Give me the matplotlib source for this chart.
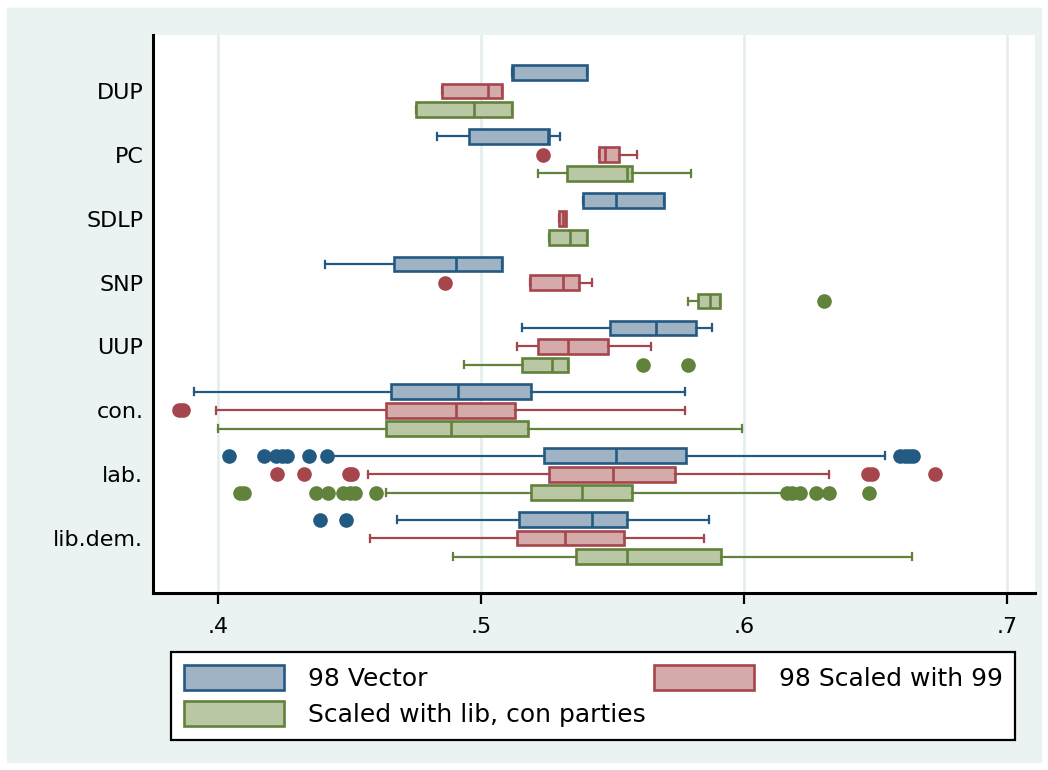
import numpy as np
import matplotlib.pyplot as plt
from matplotlib.patches import Patch, Rectangle

# 데이터
groups = ['DUP', 'PC', 'SDLP', 'SNP', 'UUP', 'con.', 'lab.', 'lib.dem.']
series = ['98 Vector', '98 Scaled with 99', 'Scaled with lib, con parties']

# 98 Vector
vec_whislo = [0.5116, 0.4833, 0.5388, 0.4406, 0.5156, 0.3909, 0.4420, 0.4681]
vec_q1 = [0.5116, 0.4953, 0.5388, 0.4669, 0.5489, 0.4658, 0.5238, 0.5145]
vec_med = [0.5122, 0.5255, 0.5511, 0.4904, 0.5664, 0.4913, 0.5511, 0.5422]
vec_q3 = [0.5402, 0.5259, 0.5696, 0.5078, 0.5816, 0.5188, 0.5777, 0.5553]
vec_whishi = [0.5402, 0.5300, 0.5696, 0.5078, 0.5877, 0.5775, 0.6536, 0.5867]
vec_fliers = [[], [], [], [], [], [],
              [0.4041, 0.4173, 0.4222, 0.4245, 0.4264, 0.4345, 0.4416,
               0.6592, 0.6610, 0.6625, 0.6643],
              [0.4387, 0.4488]]

# 98 Scaled with 99
s99_whislo = [0.4852, 0.5449, 0.5297, 0.5185, 0.5137, 0.3991, 0.4570, 0.4579]
s99_q1 = [0.4852, 0.5449, 0.5297, 0.5185, 0.5217, 0.4638, 0.5257, 0.5135]
s99_med = [0.5027, 0.5472, 0.5310, 0.5312, 0.5329, 0.4903, 0.5502, 0.5318]
s99_q3 = [0.5078, 0.5524, 0.5322, 0.5372, 0.5483, 0.5128, 0.5737, 0.5543]
s99_whishi = [0.5078, 0.5593, 0.5322, 0.5421, 0.5644, 0.5775, 0.6323, 0.5847]
s99_fliers = [[], [0.5236], [], [0.4862], [], [0.3852, 0.3866],
              [0.4223, 0.4325, 0.4497, 0.4510, 0.6470, 0.6485, 0.6725],
              []]

# Scaled with lib, con parties
lib_whislo = [0.4751, 0.5217, 0.5257, 0.5785, 0.4934, 0.4000, 0.4640, 0.4894]
lib_q1 = [0.4751, 0.5328, 0.5257, 0.5825, 0.5156, 0.4639, 0.5188, 0.5360]
lib_med = [0.4973, 0.5553, 0.5337, 0.5870, 0.5269, 0.4885, 0.5382, 0.5553]
lib_q3 = [0.5118, 0.5574, 0.5403, 0.5909, 0.5329, 0.5179, 0.5572, 0.5910]
lib_whishi = [0.5118, 0.5796, 0.5403, 0.5909, 0.5329, 0.5990, 0.6150, 0.6639]
lib_fliers = [[], [], [], [0.6303], [0.5614, 0.5785], [],
              [0.4085, 0.4098, 0.4374, 0.4418, 0.4475, 0.4501, 0.4520, 0.4600,
               0.6161, 0.6180, 0.6212, 0.6272, 0.6323, 0.6475],
              []]

xticks = [0.4, 0.5, 0.6, 0.7]
xticklabels = ['.4', '.5', '.6', '.7']

# 색 (Stata s2color 비슷하게)
edge_colors = ['#235a84', '#a5464c', '#61823a']
fill_colors = ['#a0b3c4', '#d4aaab', '#b9c7a5']
bg = '#eaf3f2'

W, H = 1048, 770
fig = plt.figure(figsize=(W / 100, H / 100), dpi=100, facecolor='white')
fig.patches.append(Rectangle((7 / W, 8 / H), (1041 - 7) / W, (762 - 8) / H,
                             transform=fig.transFigure, color=bg, zorder=-1))

ax = fig.add_axes([153 / W, 1 - 593 / H, (1035 - 153) / W, (593 - 35) / H])
ax.set_facecolor('white')
ax.set_zorder(1)


def make_stats(wlo, q1, med, q3, whi, fl):
    return [dict(whislo=wlo[i], q1=q1[i], med=med[i], q3=q3[i],
                 whishi=whi[i], fliers=fl[i]) for i in range(len(groups))]


all_stats = [
    make_stats(vec_whislo, vec_q1, vec_med, vec_q3, vec_whishi, vec_fliers),
    make_stats(s99_whislo, s99_q1, s99_med, s99_q3, s99_whishi, s99_fliers),
    make_stats(lib_whislo, lib_q1, lib_med, lib_q3, lib_whishi, lib_fliers),
]
offsets = [-0.29, 0.0, 0.29]
base = np.arange(len(groups))

for k in range(3):
    ec, fc = edge_colors[k], fill_colors[k]
    ax.bxp(all_stats[k], positions=base + offsets[k], widths=0.23,
           capwidths=0.11, orientation='horizontal', patch_artist=True,
           manage_ticks=False,
           boxprops=dict(facecolor=fc, edgecolor=ec, linewidth=1.9),
           medianprops=dict(color=ec, linewidth=1.9),
           whiskerprops=dict(color=ec, linewidth=1.6),
           capprops=dict(color=ec, linewidth=1.6),
           flierprops=dict(marker='o', markerfacecolor=ec, markeredgecolor=ec,
                           markersize=9.5))

ax.set_xlim(0.3753, 0.7105)
ax.set_ylim(7.86, -0.876)
ax.set_yticks(base)
ax.set_yticklabels(groups, fontsize=16)
ax.set_xticks(xticks)
ax.set_xticklabels(xticklabels, fontsize=16)
ax.tick_params(axis='y', length=0, pad=7)
ax.tick_params(axis='x', length=8, width=1.6, pad=9)
ax.xaxis.grid(True, color='#e6efee', linewidth=2)
ax.set_axisbelow(True)
for s in ['top', 'right']:
    ax.spines[s].set_visible(False)
for s in ['left', 'bottom']:
    ax.spines[s].set_linewidth(2.2)

handles = [Patch(facecolor=fill_colors[k], edgecolor=edge_colors[k],
                 linewidth=1.9, label=series[k]) for k in range(3)]
leg = fig.legend(handles=[handles[0], handles[2], handles[1]], ncol=2,
                 loc='upper left', mode='expand',
                 bbox_to_anchor=(171 / W, 1 - 742 / H, (1015 - 171) / W, 90 / H),
                 fontsize=18, handlelength=4.0, handleheight=1.2,
                 handletextpad=1.0, labelspacing=0.4, columnspacing=1.6,
                 borderpad=0.5, borderaxespad=0, fancybox=False,
                 edgecolor='black', framealpha=1, facecolor='white')
leg.get_frame().set_linewidth(1.6)

fig.savefig('out.png', dpi=100, facecolor='white')
